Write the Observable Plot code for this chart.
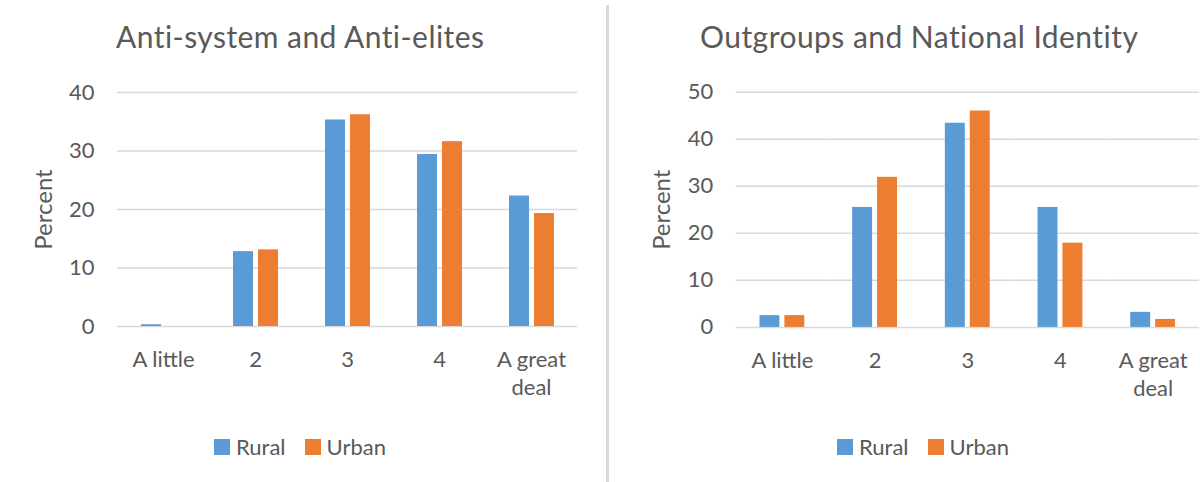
<!DOCTYPE html>
<html>
<head>
<meta charset="utf-8">
<script src="https://cdn.jsdelivr.net/npm/d3@7"></script>
<script src="https://cdn.jsdelivr.net/npm/@observablehq/plot@0.6"></script>
<style>
  html, body { margin: 0; padding: 0; background: #fff; }
  #root { position: relative; width: 1200px; height: 482px; overflow: hidden; background: #fff; font-family: Lato, "Open Sans", sans-serif; color: #595959; }
  .panel { position: absolute; top: 0; }
  .title { position: absolute; top: 18px; font-size: 30px; font-weight: 400; letter-spacing: 0.45px; white-space: nowrap; color: #595959; }
  .divider { position: absolute; left: 606px; top: 5px; width: 3px; height: 480px; background: #d9d9d9; }
  .legend { position: absolute; top: 433px; display: flex; align-items: center; font-size: 22px; color: #595959; white-space: nowrap; }
  .legend .sw { display: inline-block; width: 16px; height: 16px; margin-right: 6px; }
  .legend .item { display: flex; align-items: center; margin-right: 19px; }
</style>
</head>
<body>
<div id="root">
  <div class="divider"></div>
  <div class="title" style="left:116px">Anti-system and Anti-elites</div>
  <div class="title" style="left:700px">Outgroups and National Identity</div>
  <div class="panel" id="left" style="left:0px"></div>
  <div class="panel" id="right" style="left:600px"></div>
  <div class="legend" id="legL" style="left:214px"></div>
  <div class="legend" id="legR" style="left:837px"></div>
</div>
<script>
const categories = ["A little", "2", "3", "4", "A great deal"];
const series = ["Rural", "Urban"];
const seriesColors = ["#5B9BD5", "#ED7D31"];

const antiRural = [0.3, 12.8, 35.3, 29.4, 22.3];
const antiUrban = [0.0, 13.1, 36.2, 31.6, 19.3];
const antiTicks = [0, 10, 20, 30, 40];

const outRural = [2.5, 25.5, 43.4, 25.5, 3.2];
const outUrban = [2.5, 31.9, 46.0, 17.9, 1.7];
const outTicks = [0, 10, 20, 30, 40, 50];

function panel(rural, urban, yTicks, width, mL, mR, mB) {
  const data = categories.flatMap((c, i) => [
    {cat: c, s: "Rural", v: rural[i]},
    {cat: c, s: "Urban", v: urban[i]}
  ]);
  const yMax = yTicks[yTicks.length - 1];
  return Plot.plot({
    width, height: 400,
    marginTop: 92, marginLeft: mL, marginRight: mR, marginBottom: mB,
    style: {fontFamily: 'Lato, "Open Sans", sans-serif', fontSize: "22px", color: "#595959", background: "transparent", overflow: "visible"},
    fx: {domain: categories, padding: 0, label: null, axis: null},
    x: {domain: series, paddingInner: 0.2, paddingOuter: 0.91, axis: null},
    y: {domain: [0, yMax], axis: null},
    color: {domain: series, range: seriesColors},
    marks: [
      Plot.gridY(yTicks, {stroke: "#d9d9d9", strokeOpacity: 1, strokeWidth: 1.5}),
      Plot.axisY(yTicks, {tickSize: 0, tickPadding: 23, label: null, fontSize: 22}),
      Plot.axisY([], {label: "Percent", labelAnchor: "center", labelArrow: "none", labelOffset: 83, fontSize: 24}),
      Plot.axisFx({anchor: "bottom", tickSize: 0, tickPadding: 20, label: null, fontSize: 22, lineHeight: 1.3,
        tickFormat: d => d === "A great deal" ? "A great\ndeal" : d}),
      Plot.barY(data, {fx: "cat", x: "s", y: "v", fill: "s"})
    ]
  });
}

document.getElementById("left").append(panel(antiRural, antiUrban, antiTicks, 600, 116, 22, 74));
document.getElementById("right").append(panel(outRural, outUrban, outTicks, 602, 135, 0, 72));

for (const id of ["legL", "legR"]) {
  const el = document.getElementById(id);
  series.forEach((s, i) => {
    const item = document.createElement("div");
    item.className = "item";
    item.innerHTML = `<span class="sw" style="background:${seriesColors[i]}"></span><span>${s}</span>`;
    el.append(item);
  });
}
</script>
</body>
</html>
